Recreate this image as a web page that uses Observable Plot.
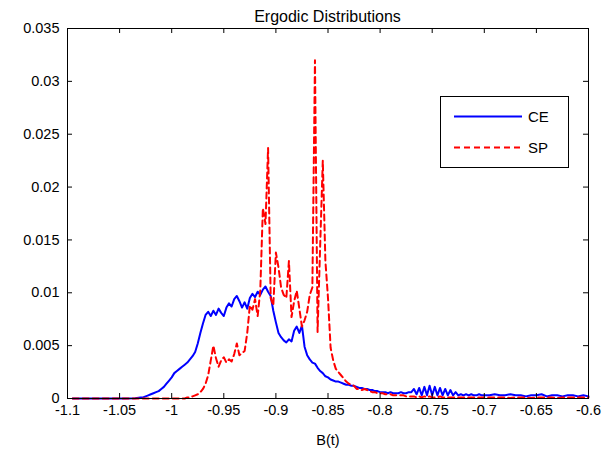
<!DOCTYPE html>
<html>
<head>
<meta charset="utf-8">
<script src="https://cdn.jsdelivr.net/npm/d3@7"></script>
<script src="https://cdn.jsdelivr.net/npm/@observablehq/plot@0.6"></script>
<style>
  html, body { margin: 0; padding: 0; background: #fff; }
  #wrap { position: relative; width: 606px; height: 452px; font-family: "Liberation Sans", Arial, sans-serif; }
  #title { position: absolute; left: 67px; width: 521px; top: 7px; text-align: center; font-size: 16px; line-height: 19px; color: #000; }
  #legend { position: absolute; left: 440px; top: 96px; width: 127px; height: 70px; border: 1px solid #000; background: #fff; }
  #legend svg { position: absolute; left: 0; top: 0; }
</style>
</head>
<body>
<div id="wrap">
  <div id="chart"></div>
  <div id="title">Ergodic Distributions</div>
  <div id="legend"></div>
</div>
<script>
// Bin centres of B(t)
const binX = [
-1.095,-1.085,-1.075,-1.065,-1.055,-1.045,-1.035,
-1.03,-1.0275,-1.025,-1.0225,-1.02,-1.0175,-1.015,-1.0125,-1.01,-1.0075,
-1.005,-1.0025,-1.0,-0.9975,-0.995,-0.9925,-0.99,-0.9875,-0.985,-0.9825,
-0.98,-0.9775,-0.975,-0.9725,-0.97,-0.9675,-0.965,-0.9625,-0.96,-0.9575,
-0.955,-0.9525,-0.95,-0.9475,-0.945,-0.9425,-0.94,-0.9375,-0.935,-0.9325,
-0.93,-0.9275,-0.925,-0.9225,-0.92,-0.9175,-0.915,-0.9125,-0.91,-0.9075,
-0.905,-0.9025,-0.9,-0.8975,-0.895,-0.8925,-0.89,-0.8875,-0.885,-0.8825,
-0.88,-0.8775,-0.875,-0.8725,-0.87,-0.8675,-0.865,-0.8625,-0.86,-0.8575,
-0.855,-0.8525,-0.85,-0.8475,-0.845,-0.8425,-0.84,-0.8375,-0.835,-0.8325,
-0.83,-0.8275,-0.825,-0.8225,-0.82,-0.8175,-0.815,-0.8125,-0.81,-0.8075,
-0.805,-0.8025,-0.8,
-0.7975,-0.795,-0.7925,-0.79,-0.7875,-0.785,-0.7825,-0.78,-0.7775,-0.775,-0.7725,-0.77,
-0.7675,-0.765,-0.7625,-0.76,-0.7575,-0.755,-0.7525,-0.75,-0.7475,-0.745,-0.7425,-0.74,-0.7375,-0.735,-0.7325,-0.73,-0.7275,-0.725,
-0.7225,-0.72,-0.7175,-0.715,-0.7125,-0.71,-0.7075,-0.705,-0.7025,-0.7,
-0.695,-0.69,-0.685,-0.68,-0.675,-0.67,-0.665,-0.66,-0.655,-0.65,-0.645,-0.64,-0.635,-0.63,-0.625,-0.62,-0.615,-0.61,-0.605,-0.6
];

// CE series
const ceValues = [
0,0,0,0,0,0,0.00003,
0.0001,0.0001,0.0002,0.0003,0.0004,0.0005,0.0006,0.0007,0.0009,0.0011,
0.0014,0.0017,0.002,0.0024,0.0026,0.0028,0.003,0.0032,0.0034,0.0037,
0.004,0.0044,0.0052,0.0062,0.0071,0.0079,0.0082,0.0078,0.0083,0.0079,
0.0085,0.0081,0.0078,0.0086,0.009,0.0087,0.0094,0.0097,0.0092,0.0086,
0.0091,0.0085,0.0095,0.0099,0.0096,0.0101,0.0098,0.0103,0.0106,0.0101,
0.0097,0.0083,0.0072,0.0062,0.0058,0.0055,0.0053,0.0056,0.0054,0.0064,
0.0068,0.0062,0.0069,0.0049,0.0041,0.0037,0.0034,0.0033,0.0029,0.0026,
0.0024,0.0021,0.002,0.0018,0.0017,0.0016,0.0016,0.0015,0.0014,0.0013,
0.0013,0.0012,0.0012,0.0011,0.001,0.001,0.0009,0.0009,0.0008,0.0008,
0.0007,0.0007,0.0006,
0.0006,0.0006,0.0005,0.0006,0.0005,0.0005,0.0005,0.0006,0.0005,0.0005,0.0006,0.0006,
0.0009,0.0004,0.001,0.0003,0.0011,0.0003,0.0012,0.0003,0.0011,0.0003,0.001,0.0003,0.0009,0.0003,0.0008,0.0003,0.0006,0.0003,
0.0004,0.0003,0.0004,0.0003,0.0004,0.0003,0.0003,0.0004,0.0003,0.0003,
0.0003,0.0004,0.0003,0.0003,0.0004,0.0003,0.0003,0.0002,0.0003,0.0003,0.0004,0.0002,0.0003,0.0003,0.0002,0.0003,0.0003,0.0002,0.0003,0.0002
];

// SP series
const spValues = [
0,0,0,0,0,0,0,
0,0,0,0,0,0,0,0,0,0,
0,0,0,0,0,0,0,0,0.0001,0.0001,
0.0002,0.0003,0.0004,0.0006,0.0009,0.0014,0.0022,0.0036,0.005,0.0038,
0.003,0.0036,0.0039,0.0034,0.0037,0.0035,0.0042,0.0052,0.0041,0.0043,
0.0045,0.0062,0.0088,0.0084,0.0094,0.0078,0.0102,0.018,0.0165,0.0237,
0.0095,0.0088,0.0138,0.0124,0.0105,0.0098,0.0095,0.013,0.0077,0.0092,
0.0102,0.0085,0.0068,0.0074,0.0082,0.0098,0.0105,0.032,0.0063,0.0145,
0.0225,0.013,0.0095,0.0048,0.0036,0.0028,0.0025,0.0022,0.0019,0.0016,
0.0014,0.0013,0.0012,0.0009,0.0009,0.0008,0.0009,0.0008,0.0007,0.0006,
0.0006,0.0005,0.0005,
0.0005,0.0004,0.0004,0.0004,0.0003,0.0003,0.0003,0.0003,0.0003,0.0002,0.0002,0.0002,
0.0002,0.0001,0.0002,0.0001,0.0002,0.0001,0.0002,0.0001,0.0001,0.0001,0.0002,0.0001,0.0001,0.0001,0.0001,0.0001,0.0001,0.0001,
0.0001,0.0001,0.0001,0.0001,0.0001,0.0001,0.0001,0.0001,0.0001,0.0001,
0.0001,0.0001,0.0001,0.0001,0.00005,0.0001,0.0001,0.0001,0.00005,0.0001,0.0001,0.0001,0.0001,0.00005,0.0001,0.0001,0.0001,0.0001,0.0001,0.0001
];

const xTicks = [-1.1,-1.05,-1,-0.95,-0.9,-0.85,-0.8,-0.75,-0.7,-0.65,-0.6];
const xTickLabels = ["-1.1","-1.05","-1","-0.95","-0.9","-0.85","-0.8","-0.75","-0.7","-0.65","-0.6"];
const yTicks = [0,0.005,0.01,0.015,0.02,0.025,0.03,0.035];
const yTickLabels = ["0","0.005","0.01","0.015","0.02","0.025","0.03","0.035"];
const seriesNames = ["CE","SP"];
const seriesColors = ["#0000ff","#ff0000"];

const ceData = binX.map((x, i) => ({x, y: ceValues[i]}));
const spData = binX.map((x, i) => ({x, y: spValues[i]}));
const xLab = new Map(xTicks.map((t, i) => [t, xTickLabels[i]]));
const yLab = new Map(yTicks.map((t, i) => [t, yTickLabels[i]]));

const mL = 67, mR = 18, mT = 28, mB = 54, W = 606, H = 452;
const fw = W - mL - mR, fh = H - mT - mB, tk = 5;

const chart = Plot.plot({
  width: W, height: H,
  marginLeft: mL, marginRight: mR, marginTop: mT, marginBottom: mB,
  style: {fontFamily: "'Liberation Sans', Arial, sans-serif", fontSize: "14.5px", color: "#000", background: "#fff"},
  x: {domain: [-1.1, -0.6]},
  y: {domain: [0, 0.035]},
  marks: [
    Plot.line(ceData, {x: "x", y: "y", stroke: seriesColors[0], strokeWidth: 2}),
    Plot.line(spData, {x: "x", y: "y", stroke: seriesColors[1], strokeWidth: 2, strokeDasharray: "6,4"}),
    Plot.frame({stroke: "#000", strokeWidth: 1}),
    Plot.tickX(xTicks, {x: d => d, insetTop: fh - tk, stroke: "#000"}),
    Plot.tickX(xTicks, {x: d => d, insetBottom: fh - tk, stroke: "#000"}),
    Plot.tickY(yTicks, {y: d => d, insetLeft: fw - tk, stroke: "#000"}),
    Plot.tickY(yTicks, {y: d => d, insetRight: fw - tk, stroke: "#000"}),
    Plot.axisX(xTicks, {tickSize: 0, tickPadding: 6, tickFormat: d => xLab.get(d), label: "B(t)", labelAnchor: "center", labelArrow: "none", labelOffset: 46}),
    Plot.axisY(yTicks, {tickSize: 0, tickPadding: 8, tickFormat: d => yLab.get(d), label: null})
  ]
});
document.getElementById("chart").appendChild(chart);

// Legend
const leg = d3.select("#legend").append("svg").attr("width", 127).attr("height", 70);
seriesNames.forEach((name, i) => {
  const yy = i === 0 ? 19.5 : 50.5;
  leg.append("line").attr("x1", 13).attr("x2", 81).attr("y1", yy).attr("y2", yy)
    .attr("stroke", seriesColors[i]).attr("stroke-width", 2)
    .attr("stroke-dasharray", i === 1 ? "6,4" : null);
  leg.append("text").attr("x", 87).attr("y", yy).attr("dy", "0.35em")
    .attr("font-family", "'Liberation Sans', Arial, sans-serif").attr("font-size", 15).text(name);
});
</script>
</body>
</html>
